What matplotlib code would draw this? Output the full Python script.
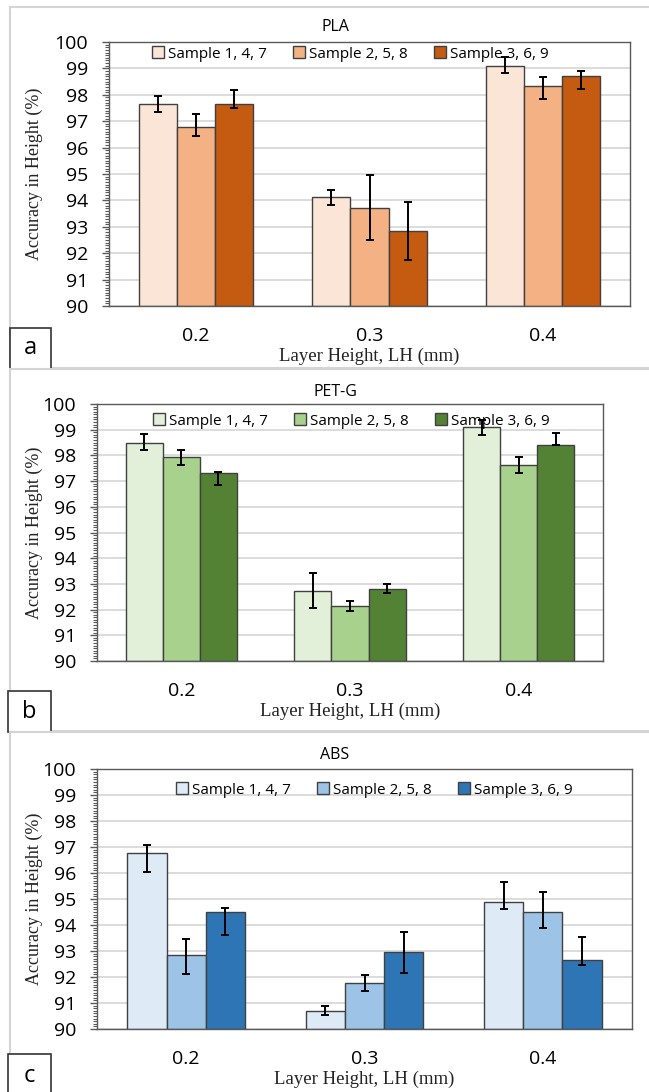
import numpy as np
import matplotlib.pyplot as plt
from matplotlib.patches import Rectangle
from matplotlib.ticker import MultipleLocator

# data
layer_heights = ['0.2', '0.3', '0.4']
series_labels = ['Sample 1, 4, 7', 'Sample 2, 5, 8', 'Sample 3, 6, 9']

pla_mean = [[97.64, 94.12, 99.10], [96.77, 93.70, 98.33], [97.64, 92.83, 98.71]]
pla_lo = [[0.29, 0.31, 0.29], [0.34, 1.21, 0.50], [0.14, 1.10, 0.49]]
pla_hi = [[0.30, 0.29, 0.33], [0.50, 1.26, 0.34], [0.53, 1.12, 0.19]]

petg_mean = [[98.50, 92.73, 99.10], [97.92, 92.13, 97.63], [97.31, 92.82, 98.42]]
petg_lo = [[0.29, 0.68, 0.31], [0.30, 0.18, 0.30], [0.46, 0.17, 0.03]]
petg_hi = [[0.32, 0.70, 0.29], [0.30, 0.21, 0.30], [0.05, 0.18, 0.46]]

abs_mean = [[96.76, 92.84, 94.51], [90.69, 91.76, 92.95], [94.90, 94.51, 92.66]]
abs_lo = [[0.72, 0.74, 0.89], [0.17, 0.29, 0.79], [0.28, 0.61, 0.18]]
abs_hi = [[0.31, 0.61, 0.16], [0.18, 0.30, 0.78], [0.75, 0.75, 0.87]]
# abs arrays above are per layer height; reorder to per sample
abs_mean = np.array(abs_mean).T
abs_lo = np.array(abs_lo).T
abs_hi = np.array(abs_hi).T

pla_colors = ['#FBE5D6', '#F4B183', '#C55A11']
petg_colors = ['#E2F0D9', '#A9D18E', '#548235']
abs_colors = ['#DEEBF7', '#9DC3E6', '#2E75B6']

W, H = 649, 1092
fig = plt.figure(figsize=(W / 100, H / 100), dpi=100)


def fx(x):
    return x / W


def fy(y):
    return 1 - y / H


def panel(name, letter, means, lo, hi, colors, box, plot, title_y, leg_x, leg_y, letter_box):
    # outer panel border
    x0, y0, x1, y1 = box
    fig.add_artist(Rectangle((fx(x0), fy(y1)), fx(x1 - x0), (y1 - y0) / H, transform=fig.transFigure,
                             fill=False, edgecolor='#d4d4d4', lw=1.5))
    l, t, r, b = plot
    ax = fig.add_axes([fx(l), fy(b), fx(r - l), (b - t) / H])
    x = np.arange(len(layer_heights))
    width = 0.22
    handles = []
    for i in range(3):
        off = (i - 1) * width
        rects = ax.bar(x + off, np.array(means[i]) - 90, width, bottom=90, color=colors[i],
                       edgecolor='#404040', lw=1, zorder=2, label=series_labels[i])
        handles.append(rects)
        ax.errorbar(x + off, means[i], yerr=[lo[i], hi[i]], fmt='none', ecolor='black',
                    elinewidth=1.4, capsize=3, capthick=1.4, zorder=4)
    ax.set_xlim(-0.5, 2.5)
    ax.set_ylim(90, 100)
    ax.set_yticks(range(90, 101))
    ax.yaxis.set_minor_locator(MultipleLocator(0.1))
    ax.yaxis.grid(True, color='#d9d9d9', lw=1.3)
    ax.set_axisbelow(True)
    ax.set_xticks(x, layer_heights)
    ax.tick_params(axis='x', length=0, pad=15, labelsize=14)
    ax.tick_params(axis='y', which='major', length=5, width=1, color='#595959', pad=10, labelsize=14)
    ax.tick_params(axis='y', which='minor', length=3, width=0.8, color='#595959')
    for s in ax.spines.values():
        s.set_color('#595959')
        s.set_linewidth(1)
    for lab in ax.get_xticklabels() + ax.get_yticklabels():
        lab.set_fontfamily('Open Sans')

    fig.text(fx(335), fy(title_y), name, ha='center', va='center', fontsize=11.5, family='Open Sans')
    fig.text(fx(34), fy((t + b) / 2), 'Accuracy in Height (%)', rotation=90, ha='center', va='center',
             fontsize=13, family='Liberation Serif', color='#222222')
    fig.text(fx((l + r) / 2), fy(b + 50), 'Layer Height, LH (mm)', ha='center', va='center',
             fontsize=13.5, family='Liberation Serif', color='#222222')

    ax.legend(handles=handles, loc='center left', bbox_to_anchor=(fx(leg_x), fy(leg_y)),
              bbox_transform=fig.transFigure, ncol=3, frameon=False, borderpad=0, borderaxespad=0,
              handlelength=0.8, handleheight=0.8, handletextpad=0.25, columnspacing=1.7,
              prop={'family': 'Open Sans', 'size': 11})

    bx0, by0, bx1, by1 = letter_box
    fig.add_artist(Rectangle((fx(bx0), fy(by1)), fx(bx1 - bx0), (by1 - by0) / H, transform=fig.transFigure,
                             facecolor='white', edgecolor='#333333', lw=1.2))
    fig.text(fx((bx0 + bx1) / 2), fy((by0 + by1) / 2), letter, ha='center', va='center',
             fontsize=17, family='Open Sans')
    return ax


panel('PLA', 'a', pla_mean, pla_lo, pla_hi, pla_colors,
      (10, 7, 660, 368), (109, 42, 630, 306), 27, 152, 54, (10, 328, 51, 369))
panel('PET-G', 'b', petg_mean, petg_lo, petg_hi, petg_colors,
      (10, 369, 660, 731), (97, 404, 603, 661), 392, 153, 421, (8, 691, 51, 732))
panel('ABS', 'c', abs_mean, abs_lo, abs_hi, abs_colors,
      (10, 732, 660, 1100), (97, 769, 632, 1029), 755, 176, 790, (8, 1054, 51, 1098))

fig.savefig('out.png', dpi=100)
